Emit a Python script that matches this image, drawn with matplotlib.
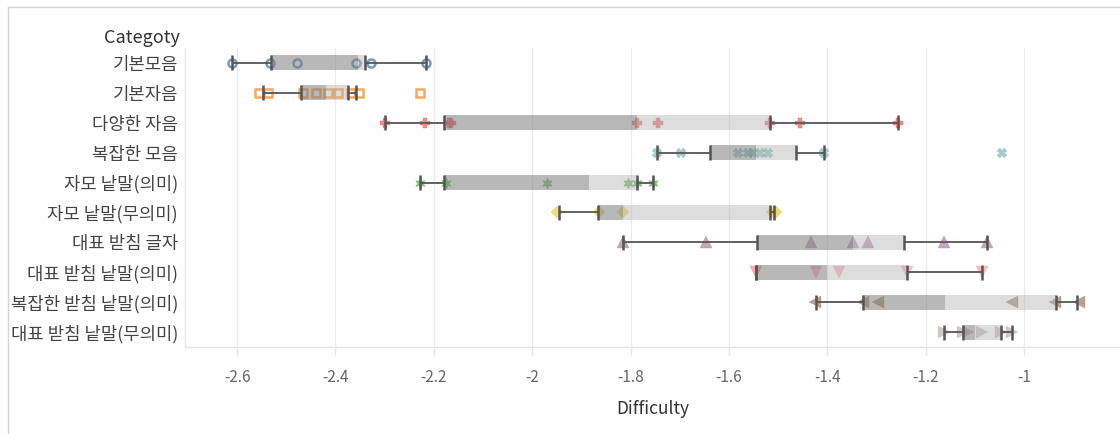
import numpy as np
import matplotlib
matplotlib.use('Agg')
import matplotlib.pyplot as plt

plt.rcParams['font.family'] = ['Noto Sans CJK KR', 'DejaVu Sans']

# 카테고리 (위에서 아래 순서)
categories = ['기본모음', '기본자음', '다양한 자음', '복잡한 모음', '자모 낱말(의미)',
              '자모 낱말(무의미)', '대표 받침 글자', '대표 받침 낱말(의미)',
              '복잡한 받침 낱말(의미)', '대표 받침 낱말(무의미)']

# 각 카테고리의 문항 난이도
pts_basic_vowel = [-2.610, -2.533, -2.478, -2.358, -2.328, -2.216]
pts_basic_cons = [-2.555, -2.537, -2.466, -2.440, -2.415, -2.395, -2.369, -2.352, -2.228]
pts_various_cons = [-2.299, -2.218, -2.170, -2.165, -1.788, -1.745, -1.516, -1.455, -1.256]
pts_complex_vowel = [-1.747, -1.698, -1.581, -1.562, -1.552, -1.536, -1.520, -1.406, -1.045]
pts_word_mean = [-2.228, -2.176, -1.969, -1.806, -1.788, -1.755]
pts_word_nomean = [-1.950, -1.865, -1.816, -1.512, -1.505]
pts_final_char = [-1.816, -1.646, -1.434, -1.347, -1.317, -1.164, -1.075]
pts_final_mean = [-1.546, -1.546, -1.424, -1.376, -1.238, -1.085]
pts_cfinal_mean = [-1.426, -1.327, -1.298, -1.024, -0.937, -0.888]
pts_final_nomean = [-1.164, -1.124, -1.114, -1.085, -1.047, -1.024]

points = [pts_basic_vowel, pts_basic_cons, pts_various_cons, pts_complex_vowel,
          pts_word_mean, pts_word_nomean, pts_final_char, pts_final_mean,
          pts_cfinal_mean, pts_final_nomean]

# 박스플롯 통계
whisker_lo = [-2.610, -2.547, -2.299, -1.747, -2.228, -1.946, -1.816, -1.546, -1.424, -1.164]
q1 = [-2.530, -2.470, -2.180, -1.638, -2.180, -1.867, -1.544, -1.546, -1.327, -1.124]
median = [-2.355, -2.419, -1.788, -1.546, -1.885, -1.816, -1.347, -1.400, -1.160, -1.099]
q3 = [-2.340, -2.375, -1.516, -1.463, -1.788, -1.516, -1.244, -1.238, -0.935, -1.047]
whisker_hi = [-2.216, -2.358, -1.256, -1.406, -1.755, -1.508, -1.075, -1.085, -0.892, -1.024]

colors = ['#4e79a7', '#f28e2b', '#e15759', '#76b7b2', '#59a14f',
          '#edc948', '#b07aa1', '#ff9da7', '#9c755f', '#bab0ac']
markers = ['o', 's', 'P', 'X', (6, 1, 0), 'D', '^', 'v', '<', '>']
xticks = [-2.6, -2.4, -2.2, -2.0, -1.8, -1.6, -1.4, -1.2, -1.0]
xtick_labels = ['-2.6', '-2.4', '-2.2', '-2', '-1.8', '-1.6', '-1.4', '-1.2', '-1']

fig = plt.figure(figsize=(11.2, 4.34), dpi=100)
W, H = 1120, 434
ax = fig.add_axes([185 / W, (H - 347) / H, (W - 185) / W, (347 - 48) / H])

ypos = np.arange(len(categories))
box_h = 0.5

for i, (p, c, m) in enumerate(zip(points, colors, markers)):
    y = np.full(len(p), ypos[i])
    if m in ('o', 's'):
        ax.plot(p, y, ls='none', marker=m, ms=5.8 if m == 'o' else 5.4, mfc='none',
                mec=c, mew=1.8, alpha=0.75, zorder=2)
    else:
        size = {'P': 7, 'X': 7, 'D': 6}.get(m, 8)
        ax.plot(p, y, ls='none', marker=m, ms=size, mfc=c, mec=c, mew=0.3,
                alpha=0.68, zorder=2)

# 박스 (Q1~중앙값: 진한 회색, 중앙값~Q3: 연한 회색)
q1a, meda, q3a = np.array(q1), np.array(median), np.array(q3)
ax.barh(ypos, meda - q1a, left=q1a, height=box_h, color='#7f7f7f', alpha=0.55,
        lw=0, zorder=3)
ax.barh(ypos, q3a - meda, left=meda, height=box_h, color='#b0b0b0', alpha=0.42,
        lw=0, zorder=3)

# 수염과 끝선
ax.hlines(ypos, whisker_lo, q1, color='#555555', lw=1.3, zorder=4)
ax.hlines(ypos, q3, whisker_hi, color='#555555', lw=1.3, zorder=4)
for vals in (whisker_lo, q1, q3, whisker_hi):
    ax.vlines(vals, ypos - box_h / 2, ypos + box_h / 2, color='#555555', lw=1.8, zorder=4)

ax.set_xlim(-2.7057, -0.8053)
ax.set_ylim(len(categories) - 0.5, -0.5)
ax.set_xticks(xticks)
ax.set_xticklabels(xtick_labels, fontsize=11, color='#666666')
ax.set_yticks(ypos)
ax.set_yticklabels(categories, fontsize=12.8, color='#444444')
ax.tick_params(axis='y', length=0, pad=5)
ax.tick_params(axis='x', length=6, width=1, color='#e6e6e6', pad=10)
ax.grid(axis='x', color='#ebebeb', lw=1)
ax.set_axisbelow(True)
for side in ('top', 'right'):
    ax.spines[side].set_visible(False)
for side in ('left', 'bottom'):
    ax.spines[side].set_color('#e6e6e6')
    ax.spines[side].set_linewidth(1)

ax.set_xlabel('Difficulty', fontsize=12.5, color='#333333', labelpad=10)
ax.text(-0.006, 1.035, 'Categoty', transform=ax.transAxes, ha='right', va='center',
        fontsize=13, color='#333333')

# 바깥 테두리 (위, 왼쪽)
fig.add_artist(plt.Line2D([8 / W, 8 / W], [0, 1 - 7 / H], transform=fig.transFigure,
                          color='#d4d4d4', lw=1))
fig.add_artist(plt.Line2D([8 / W, 1], [1 - 7 / H, 1 - 7 / H], transform=fig.transFigure,
                          color='#d4d4d4', lw=1))

fig.savefig('out.png', dpi=100)
